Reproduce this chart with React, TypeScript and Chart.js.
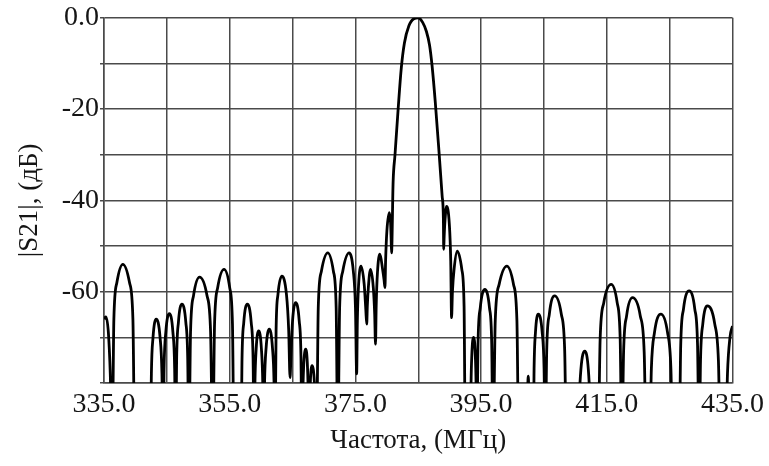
import React, { useEffect, useRef } from "react";
import { Chart, registerables } from "chart.js";

Chart.register(...registerables);

// Frequency (MHz) and |S21| (dB)
const freqMHz = [
  335.0, 335.3, 335.7, 336.0, 336.3,
  336.57, 337.05, 338.0, 339.06, 339.6, 339.9,
  342.4, 342.54, 342.8, 343.3, 343.92, 344.22, 344.4,
  344.56, 344.84, 345.4, 345.96, 346.24, 346.4,
  346.56, 346.84, 347.4, 348.02, 348.32, 348.5,
  348.77, 349.25, 350.2, 351.38, 351.96, 352.3,
  352.59, 353.09, 354.1, 355.0, 355.44, 355.7,
  356.8, 356.96, 357.24, 357.8, 358.42, 358.72, 358.9,
  359.01, 359.21, 359.6, 360.05, 360.27, 360.4,
  360.54, 360.8, 361.3, 361.8, 362.06, 362.2,
  362.38, 362.68, 363.3, 364.03, 364.39, 364.6,
  364.74, 365.0, 365.5, 366.06, 366.34, 366.5,
  366.6, 366.76, 367.1, 367.38, 367.52, 367.6,
  367.68, 367.82, 368.1, 368.49, 368.69, 368.8,
  369.09, 369.59, 370.6, 371.5, 371.94, 372.2,
  372.49, 372.99, 374.0, 374.67, 375.01, 375.2,
  375.31, 375.51, 375.9, 376.4, 376.66, 376.8,
  376.9, 377.06, 377.4, 377.85, 378.07, 378.2,
  378.31, 378.51, 378.9, 379.35, 379.57, 379.7,
  379.81, 380.01, 380.4, 380.6, 380.69, 380.75,
  381.0, 381.3, 381.8, 382.3, 382.8, 383.5, 384.3, 385.0,
  385.7, 386.3, 386.8, 387.2, 387.7, 388.3, 388.8, 389.0, 389.05,
  389.12, 389.25, 389.5, 389.95, 390.17, 390.3,
  390.44, 390.7, 391.2, 391.93, 392.29, 392.5,
  393.3, 393.38, 393.52, 393.8, 394.08, 394.22, 394.3,
  394.51, 394.87, 395.6, 396.33, 396.69, 396.9,
  397.25, 397.87, 399.1, 400.16, 400.7, 401.0,
  402.2, 402.5, 402.8,
  403.3, 403.43, 403.65, 404.1, 404.72, 405.02, 405.2,
  405.44, 405.86, 406.7, 407.76, 408.3, 408.6,
  410.4, 410.58, 410.88, 411.5, 412.06, 412.34, 412.5,
  413.6, 413.94, 414.52, 415.7, 416.65, 417.13, 417.4,
  417.67, 418.15, 419.1, 420.33, 420.95, 421.3,
  421.8, 422.09, 422.59, 423.6, 424.66, 425.2, 425.5,
  426.5, 426.76, 427.2, 428.1, 429.0, 429.44, 429.7,
  429.91, 430.27, 431.0, 432.18, 432.76, 433.1,
  433.9, 434.2, 434.6, 435.0,
];

const s21dB = [
  -66, -65.5, -69, -78, -95,
  -66, -58, -54, -58, -66, -95,
  -95, -78, -70, -66, -70, -78, -95,
  -76.8, -68.8, -64.8, -68.8, -76.8, -95,
  -74.7, -66.7, -62.7, -66.7, -74.7, -95,
  -68.8, -60.8, -56.8, -60.8, -68.8, -95,
  -67.1, -59.1, -55.1, -59.1, -67.1, -95,
  -95, -74.7, -66.7, -62.7, -66.7, -74.7, -95,
  -80.6, -72.6, -68.6, -72.6, -80.6, -95,
  -80.2, -72.2, -68.2, -72.2, -80.2, -95,
  -68.6, -60.6, -56.6, -60.6, -68.6, -78.8,
  -74.4, -66.4, -62.4, -66.4, -74.4, -95,
  -84.6, -76.6, -72.6, -76.6, -84.6, -95,
  -88, -80.2, -76.2, -80.2, -88, -95,
  -63.5, -55.5, -51.5, -55.5, -63.5, -95,
  -63.5, -55.5, -51.5, -55.5, -63.5, -78,
  -66.4, -58.4, -54.4, -58.4, -64, -67.1,
  -63, -59.1, -55.1, -59.1, -65, -71.5,
  -63, -55.8, -51.8, -55.3, -57.5, -59.1,
  -53, -46.7, -42.7, -45, -48.5, -51.5,
  -36, -30, -20, -11, -5.5, -1.8, -0.2, 0,
  -1.0, -3, -6, -10.5, -18.3, -29.3, -39, -44, -50.7,
  -48, -44.5, -41.3, -45.3, -53.3, -65.7,
  -60, -55.1, -51.1, -55.1, -63.1, -95,
  -95, -82, -74, -70, -74, -82, -95,
  -71.5, -63.5, -59.5, -63.5, -71.5, -95,
  -66.4, -58.4, -54.4, -58.4, -66.4, -95,
  -95, -78.5, -95,
  -95, -76.9, -68.9, -64.9, -68.9, -76.9, -95,
  -72.9, -64.9, -60.9, -64.9, -72.9, -95,
  -95, -85, -77, -73, -77, -85, -95,
  -95, -70.4, -62.4, -58.4, -62.4, -70.4, -95,
  -73.3, -65.3, -61.3, -65.3, -73.3, -95,
  -95, -76.9, -68.9, -64.9, -68.9, -76.9, -95,
  -95, -71.8, -63.8, -59.8, -63.8, -71.8, -95,
  -75.1, -67.1, -63.1, -67.1, -75.1, -95,
  -95, -78, -70, -67.5,
];

const xGridTicks = [335, 345, 355, 365, 375, 385, 395, 405, 415, 425, 435];
const xLabelTicks = [335, 355, 375, 395, 415, 435];
const yLabelTicks = [0, -20, -40, -60];

const xTitle = "Частота, (МГц)";
const yTitle = "|S21|, (дБ)";

const FONT = "'Liberation Serif', 'Times New Roman', serif";
const GRID = "#4a4a4a";
const TEXT = "#151515";

export default function App() {
  const ref = useRef<HTMLCanvasElement>(null);

  useEffect(() => {
    if (!ref.current) return;
    const points = freqMHz.map((f, i) => ({ x: f, y: s21dB[i] }));
    const chart = new Chart(ref.current, {
      type: "line",
      data: {
        datasets: [
          {
            data: points,
            borderColor: "#000",
            borderWidth: 2.8,
            pointRadius: 0,
            cubicInterpolationMode: "monotone",
            fill: false,
            clip: 0,
          } as any,
        ],
      },
      options: {
        responsive: false,
        animation: false,
        layout: { padding: { top: 16, right: 32, left: 0, bottom: 0 } },
        plugins: {
          legend: { display: false },
          tooltip: { enabled: false },
        },
        scales: {
          x: {
            type: "linear",
            min: 335,
            max: 435,
            afterBuildTicks: (s: any) => {
              s.ticks = xGridTicks.map((v) => ({ value: v }));
            },
            afterFit: (s: any) => {
              s.height = 83;
            },
            grid: { color: GRID, lineWidth: 1.5, drawTicks: false },
            border: { color: GRID, width: 1.5 },
            ticks: {
              padding: 5,
              color: TEXT,
              autoSkip: false,
              maxRotation: 0,
              font: { family: FONT, size: 28 },
              callback: (v: any) =>
                xLabelTicks.includes(Number(v)) ? Number(v).toFixed(1) : "",
            },
            title: {
              display: true,
              text: xTitle,
              color: TEXT,
              font: { family: FONT, size: 27 },
              padding: { top: 0, bottom: 9 },
            },
          },
          y: {
            type: "linear",
            min: -80,
            max: 0,
            afterFit: (s: any) => {
              s.width = 104;
            },
            grid: { color: GRID, lineWidth: 1.5, drawTicks: true, tickLength: 4 },
            border: { color: GRID, width: 1.5 },
            ticks: {
              stepSize: 10,
              padding: 1,
              color: TEXT,
              autoSkip: false,
              font: { family: FONT, size: 28 },
              callback: (v: any) => {
                const n = Number(v);
                if (n === 0) return "0.0";
                return yLabelTicks.includes(n) ? String(n) : "";
              },
            },
            title: {
              display: true,
              text: yTitle,
              color: TEXT,
              font: { family: FONT, size: 27 },
              padding: { top: 14, bottom: 0 },
            },
          },
        },
      },
    });
    return () => chart.destroy();
  }, []);

  return (
    <div
      style={{
        position: "fixed",
        left: 0,
        top: 0,
        width: 769,
        height: 466,
        background: "#fff",
      }}
    >
      <canvas ref={ref} width={769} height={466} style={{ width: 769, height: 466 }} />
    </div>
  );
}
